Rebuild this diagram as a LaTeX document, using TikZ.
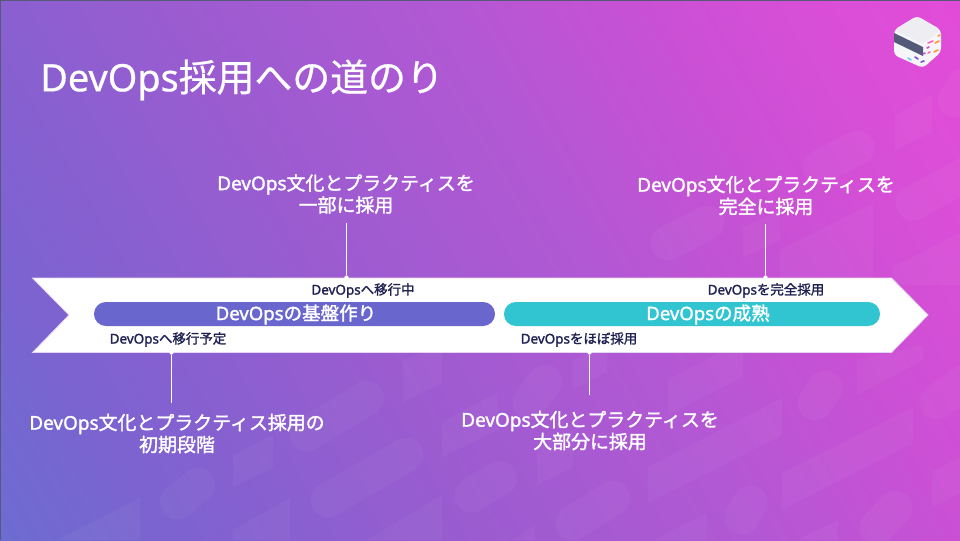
\documentclass[tikz,border=0pt]{standalone}
\usepackage{fontspec}
\setmainfont{Noto Sans CJK JP}[FakeBold=0.6]
\newfontfamily\latreg{Noto Sans}[FakeBold=0.6]
\newfontfamily\latmed{Noto Sans}[FakeBold=1.6]
\newfontfamily\cjkmed{Noto Sans CJK JP}[FakeBold=1.6]
\newcommand{\dvreg}{{\latreg DevOps}}
\newcommand{\dvmed}{{\latmed DevOps}}
\definecolor{bg0}{HTML}{6D6CD0}
\definecolor{bg1}{HTML}{7F62D0}
\definecolor{bg2}{HTML}{9A5CD0}
\definecolor{bg3}{HTML}{B258D4}
\definecolor{bg4}{HTML}{C950D4}
\definecolor{bg5}{HTML}{DD4ED8}
\definecolor{bg6}{HTML}{E24BD8}
\definecolor{navy}{HTML}{1F2152}
\definecolor{bluepill}{HTML}{6966CE}
\definecolor{tealpill}{HTML}{30C5D0}
\definecolor{bandedge}{HTML}{E6D5F2}
\definecolor{cubedark}{HTML}{545A78}
\definecolor{cubetop}{HTML}{EEEEF2}
\definecolor{cubeside}{HTML}{F6F6F8}
\pgfdeclarehorizontalshading{bgshade}{100bp}{color(0bp)=(bg0); color(25bp)=(bg0); color(32.7bp)=(bg1); color(43.6bp)=(bg2); color(54.5bp)=(bg3); color(62.7bp)=(bg4); color(71bp)=(bg5); color(75bp)=(bg6); color(100bp)=(bg6)}
\tikzset{
  pillshape/.style={draw=white,draw opacity=.035,line width=26pt,line cap=round},
  paral/.style={fill=white,fill opacity=.035},
  bigtext/.style={text=white,align=center,font=\cjkmed\fontsize{14.2}{16.5}\selectfont,inner sep=0pt},
  smalltext/.style={text=navy,font=\cjkmed\fontsize{10.1}{12}\selectfont,inner sep=0pt},
  phasetext/.style={text=white,font=\cjkmed\fontsize{13.9}{16}\selectfont,inner sep=0pt},
  leader/.style={draw=white,line width=.75pt},
  leaderdot/.style={fill=white,circle,inner sep=0pt,minimum size=3.2pt},
  cubedash/.style={line width=1.2pt,line cap=round},
}
\begin{document}
\begin{tikzpicture}[x=0.75pt,y=-0.75pt]
\useasboundingbox (0,0) rectangle (960,540);
\begin{scope}
\clip (0,0) rectangle (960,540);
\shade[shading=bgshade,shading angle=30] (-70.5,-280.5) rectangle (1030.5,820.5);
% faint background pattern
\draw[pillshape] (307,434) -- (367,398);
\draw[pillshape] (328,500) -- (406,455);
\draw[pillshape] (177,502) -- (198,485);
\draw[pillshape] (472,495) -- (500,478);
\draw[pillshape] (530,402) -- (545,382);
\draw[pillshape] (573,523) -- (613,498);
\draw[pillshape] (815,403) -- (825,388);
\draw[pillshape] (742,517) -- (750,503);
\draw[pillshape] (877,527) -- (895,508);
\draw[pillshape] (937,402) -- (965,382);
\draw[pillshape] (668,243) -- (707,223);
\draw[pillshape] (820,167) -- (857,148);
\draw[pillshape] (913,203) -- (965,175);
\draw[pillshape] (955,100) -- (965,85);
\fill[paral] (233,487) -- (273,468) -- (273,435) -- (233,455) -- cycle;
\fill[paral] (403,402) -- (442,383) -- (442,345) -- (403,360) -- cycle;
\fill[paral] (442,457) -- (498,430) -- (498,392) -- (442,422) -- cycle;
\fill[paral] (57,540) -- (140,498) -- (140,540) -- cycle;
\fill[paral] (233,540) -- (233,530) -- (290,498) -- (290,540) -- cycle;
\fill[paral] (367,540) -- (442,495) -- (442,540) -- cycle;
\fill[paral] (537,485) -- (573,467) -- (573,430) -- (537,447) -- cycle;
\fill[paral] (648,503) -- (782,435) -- (782,398) -- (648,467) -- cycle;
\fill[paral] (782,510) -- (913,443) -- (913,407) -- (782,473) -- cycle;
\fill[paral] (668,415) -- (743,377) -- (743,340) -- (668,380) -- cycle;
\fill[paral] (573,390) -- (607,372) -- (607,345) -- (573,360) -- cycle;
\fill[paral] (857,395) -- (923,360) -- (923,345) -- (857,360) -- cycle;
\fill[paral] (932,508) -- (960,493) -- (960,457) -- (932,472) -- cycle;
\fill[paral] (653,540) -- (707,513) -- (707,540) -- cycle;
\fill[paral] (797,540) -- (838,520) -- (838,540) -- cycle;
\fill[paral] (513,540) -- (535,525) -- (535,540) -- cycle;
\fill[paral] (895,150) -- (932,132) -- (932,95) -- (895,115) -- cycle;
\fill[paral] (780,250) -- (873,203) -- (873,285) -- (780,285) -- cycle;
\fill[paral] (893,267) -- (960,233) -- (960,285) -- (893,285) -- cycle;
\fill[paral] (743,227) -- (780,210) -- (780,240) -- (743,258) -- cycle;
% edge hairlines of the slide
\fill[cubedark] (0,0) rectangle (1,540);
\fill[cubedark] (0,0) rectangle (960,1);
\end{scope}
% title
\node[anchor=west,text=white,inner sep=0pt,font=\fontsize{28.4}{32}\selectfont] (title) at (40,80) {\dvreg 採用への道のり};
% band
\draw[fill=white,draw=bandedge,line width=.6pt] (32.5,278) -- (891.5,278) -- (928,315) -- (891.5,352.5) -- (32.5,352.5) -- (69,315) -- cycle;
\node[fill=bluepill,rounded corners=8.9pt,minimum width=300.75pt,minimum height=18pt,inner sep=0pt] (phaseA) at (294.5,314) {};
\node[fill=tealpill,rounded corners=8.9pt,minimum width=282pt,minimum height=18pt,inner sep=0pt] (phaseB) at (692,314) {};
\node[phasetext] (phaseAt) at (296,314.5) {\dvmed の基盤作り};
\node[phasetext] (phaseBt) at (708,314.5) {\dvmed の成熟};
% small labels
\node[smalltext] (s1) at (363,290.5) {\dvmed へ移行中};
\node[smalltext] (s2) at (168,339.5) {\dvmed へ移行予定};
\node[smalltext] (s3) at (579,339.5) {\dvmed をほぼ採用};
\node[smalltext] (s4) at (766,290.5) {\dvmed を完全採用};
% big labels
\node[bigtext] (b1) at (346,194) {\dvmed 文化とプラクティスを\\一部に採用};
\node[bigtext] (b2) at (766,195.5) {\dvmed 文化とプラクティスを\\完全に採用};
\node[bigtext] (b3) at (177,433.5) {\dvmed 文化とプラクティス採用の\\初期段階};
\node[bigtext] (b4) at (590,430.5) {\dvmed 文化とプラクティスを\\大部分に採用};
% leaders
\coordinate (l1a) at (346.5,223); \node[leaderdot] (l1b) at (346.5,277.5) {};
\coordinate (l2a) at (765.5,224); \node[leaderdot] (l2b) at (765.5,277.5) {};
\coordinate (l3a) at (171.5,403); \node[leaderdot] (l3b) at (171.5,352.5) {};
\coordinate (l4a) at (589.5,395); \node[leaderdot] (l4b) at (589.5,352.5) {};
\draw[leader] (l1a) -- (l1b);
\draw[leader] (l2a) -- (l2b);
\draw[leader] (l3a) -- (l3b);
\draw[leader] (l4a) -- (l4b);
% logo cube
\fill[cubeside,rounded corners=3pt] (917,16) -- (941,30) -- (941,52) -- (923,68) -- (894,55) -- (894,30) -- cycle;
\fill[cubedark] (894,33) -- (923,47) -- (923,56) -- (894,42) -- cycle;
\fill[cubetop,rounded corners=3pt] (917,16) -- (941,30) -- (923,44) -- (894,30) -- cycle;
\draw[cubedash,color=cyan!60!white] (908,58) -- (911,60);
\draw[cubedash,color=violet!55!blue!70!white] (915,57) -- (918,59);
\draw[cubedash,color=violet!55!blue!70!white] (921,62) -- (924,61);
\draw[cubedash,color=magenta!60!white] (928,43) -- (933,41);
\draw[cubedash,color=orange!80!white] (938,36) -- (940,35);
\draw[cubedash,color=orange!80!white] (935,43) -- (939,41);
\draw[cubedash,color=violet!60!magenta!70!white] (927,48) -- (929,47);
\draw[cubedash,color=orange!80!white] (934,52) -- (938,50);
\draw[cubedash,color=violet!60!magenta!70!white] (923,54) -- (925,53);
\draw[cubedash,color=magenta!60!white] (928,53) -- (930,52);
\end{tikzpicture}
\end{document}
